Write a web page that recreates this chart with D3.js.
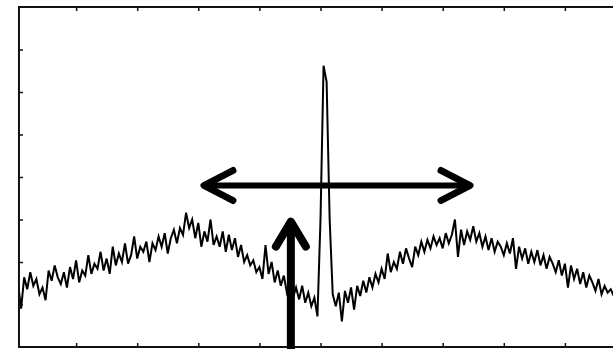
<!DOCTYPE html>
<html>
<head>
<meta charset="utf-8">
<script src="https://cdn.jsdelivr.net/npm/d3@7"></script>
<style>
html,body{margin:0;padding:0;background:#fff;overflow:hidden;}
svg{display:block;}
</style>
</head>
<body>
<script>
// Spectrum intensity (arbitrary units) per channel, channels 1..196
const intensity = [
75,45,82,68,88,72,80,62,70,55,
90,78,96,82,74,88,70,94,80,102,
76,90,84,108,86,98,92,112,90,104,
86,118,96,110,100,122,98,108,130,104,
118,112,124,100,122,114,130,118,134,110,
128,138,122,140,132,158,140,150,128,146,
118,136,124,150,120,130,118,136,112,132,
114,128,106,120,100,108,96,102,88,94,
80,120,86,100,76,90,72,84,64,74,
58,70,56,72,52,64,48,58,36,150,
331,312,150,62,48,64,30,66,52,70,
44,72,60,78,64,82,70,86,76,92,
80,110,88,100,92,112,98,116,104,94,
118,108,124,112,126,116,130,120,128,116,
134,122,132,150,106,138,120,136,126,142,
124,134,118,130,114,128,112,124,118,108,
122,110,128,92,118,104,116,98,112,100,
114,96,108,92,106,98,88,102,84,98,
70,96,80,92,74,88,70,84,76,66,
80,62,72,64,68,60
];
const channels = intensity.map((_, i) => i + 1);
const xTicks = [20, 40, 60, 80, 100, 120, 140, 160, 180];
const yTicks = [50, 100, 150, 200, 250, 300, 350];
// annotation arrows (data units)
const hArrow = {from: 61.2, to: 149.6, level: 190};
const vArrow = {channel: 90.3, from: -10, to: 151};
const frameStart = 1.3;

(function () {
const W = 613, H = 349;
const svg = d3.select("body").append("svg").attr("width", W).attr("height", H);
const x = d3.scaleLinear().domain([0, 200]).range([15, 626]);
const y = d3.scaleLinear().domain([0, 400]).range([347, 7]);

const fL = x(frameStart), fR = x(200), fT = y(400), fB = y(0);

svg.append("clipPath").attr("id", "clip").append("rect")
  .attr("x", fL).attr("y", fT).attr("width", fR - fL).attr("height", fB - fT);

// data line
const line = d3.line().x((d, i) => x(channels[i])).y(d => y(d));
svg.append("path").datum(intensity)
  .attr("clip-path", "url(#clip)")
  .attr("d", line)
  .attr("fill", "none").attr("stroke", "#000").attr("stroke-width", 2)
  .attr("stroke-linejoin", "miter");

// axes (inward ticks)
const gTop = svg.append("g").attr("transform", `translate(0,${fT})`)
  .call(d3.axisBottom(x).tickValues(xTicks).tickSize(4).tickFormat(""));
const gBot = svg.append("g").attr("transform", `translate(0,${fB})`)
  .call(d3.axisTop(x).tickValues(xTicks).tickSize(4).tickFormat(""));
const gLeft = svg.append("g").attr("transform", `translate(${fL},0)`)
  .call(d3.axisRight(y).tickValues(yTicks).tickSize(4).tickFormat(""));
[gTop, gBot, gLeft].forEach(g => {
  g.select(".domain").remove();
  g.selectAll(".tick line").attr("stroke", "#111").attr("stroke-width", 1.5);
});

// frame
svg.append("rect").attr("x", fL).attr("y", fT)
  .attr("width", fR - fL).attr("height", fB - fT)
  .attr("fill", "none").attr("stroke", "#111").attr("stroke-width", 2);

// horizontal double arrow
const ay = y(hArrow.level), ax1 = x(hArrow.from), ax2 = x(hArrow.to);
const arrow = svg.append("g").attr("stroke", "#000").attr("fill", "none")
  .attr("stroke-linecap", "round").attr("stroke-linejoin", "round");
arrow.append("line").attr("x1", ax1 + 2).attr("x2", ax2 - 2).attr("y1", ay).attr("y2", ay)
  .attr("stroke-width", 6).attr("stroke-linecap", "butt");
arrow.append("path").attr("d", `M${ax1 + 31},${ay - 15}L${ax1 + 2},${ay}L${ax1 + 31},${ay + 15}`)
  .attr("stroke-width", 7);
arrow.append("path").attr("d", `M${ax2 - 31},${ay - 15}L${ax2 - 2},${ay}L${ax2 - 31},${ay + 15}`)
  .attr("stroke-width", 7);

// vertical arrow
const vx = x(vArrow.channel), vy1 = y(vArrow.from), vy2 = y(vArrow.to);
arrow.append("line").attr("x1", vx).attr("x2", vx).attr("y1", vy1).attr("y2", vy2 + 3)
  .attr("stroke-width", 8).attr("stroke-linecap", "butt");
arrow.append("path").attr("d", `M${vx - 15},${vy2 + 28}L${vx},${vy2 + 3}L${vx + 15},${vy2 + 28}`)
  .attr("stroke-width", 8);
})();
</script>
</body>
</html>
